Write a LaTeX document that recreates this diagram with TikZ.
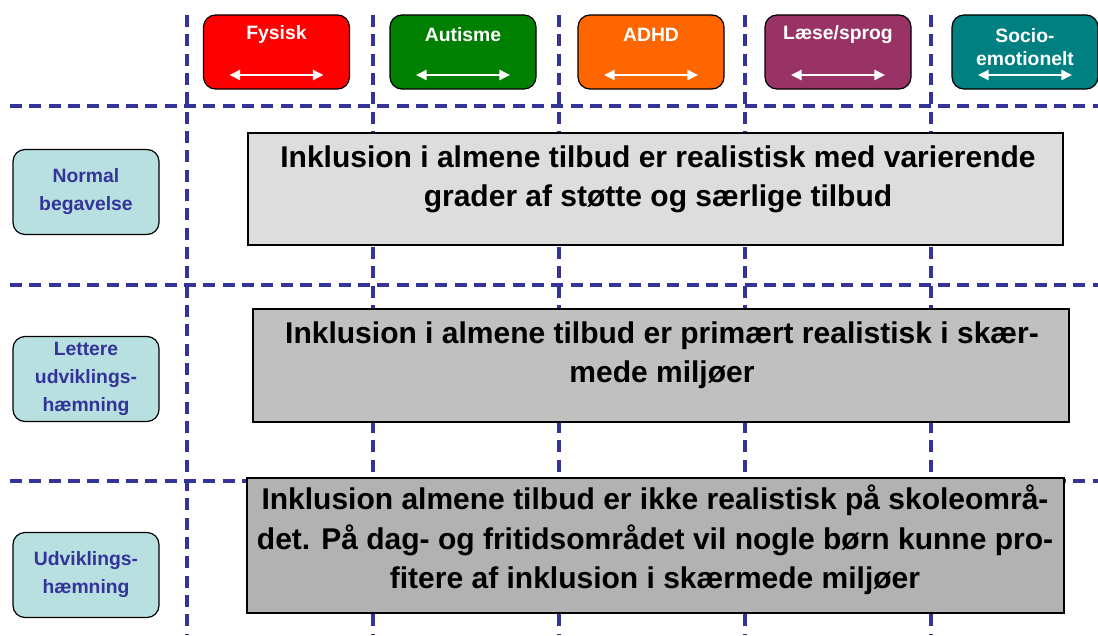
\documentclass[tikz,border=0pt]{standalone}
\usepackage{fontspec}
\setmainfont{Liberation Sans}
\usetikzlibrary{arrows, arrows.meta}
\usetikzlibrary{calc}

\newdimen\px
\px=0.75pt

\definecolor{gridblue}{HTML}{333399}
\definecolor{fysred}{HTML}{FF0000}
\definecolor{autgreen}{HTML}{008000}
\definecolor{adhdorange}{HTML}{FF6600}
\definecolor{laesepurple}{HTML}{993366}
\definecolor{socioteal}{HTML}{008080}
\definecolor{levelcyan}{HTML}{B8E0E0}
\definecolor{greyA}{HTML}{DDDDDD}
\definecolor{greyB}{HTML}{C0C0C0}
\definecolor{greyC}{HTML}{B2B2B2}

\begin{document}
\begin{tikzpicture}[x=0.75pt, y=-0.75pt,
    grid/.style={gridblue, line width=2.3pt, dash pattern=on 9pt off 5.5pt},
    catbox/.style={draw=black, line width=0.9pt, rounded corners=9pt, minimum width=146\px, minimum height=74\px, inner sep=0pt},
    cattext/.style={text=white, align=center, font=\bfseries\fontsize{14.5}{17}\selectfont},
    catarrow/.style={white, line width=1.8pt, {Triangle[length=8pt, width=7.5pt]}-{Triangle[length=8pt, width=7.5pt]}},
    levelbox/.style={draw=black, fill=levelcyan, line width=0.9pt, rounded corners=9pt, minimum width=146\px, minimum height=85\px, text=gridblue, align=center, font=\bfseries\fontsize{14.5}{21}\selectfont},
    infobox/.style={draw=black, line width=1.3pt, inner sep=0pt},
    infotext/.style={align=center, font=\bfseries\fontsize{22.5}{29.5}\selectfont}
  ]
    \useasboundingbox (0,0) rectangle (1098,635);

    % dashed grid
    \draw[grid] (187,15) -- (187,635);
    \draw[grid] (373,15) -- (373,635);
    \draw[grid] (559,15) -- (559,635);
    \draw[grid] (745,15) -- (745,635);
    \draw[grid] (931,15) -- (931,635);
    \draw[grid] (10,106) -- (1098,106);
    \draw[grid] (10,285) -- (1098,285);
    \draw[grid] (10,481) -- (1098,481);

    % categories
    \node[catbox, fill=fysred] (fysisk) at (276.5,52) {};
    \node[catbox, fill=autgreen] (autisme) at (463,52) {};
    \node[catbox, fill=adhdorange] (adhd) at (651,52) {};
    \node[catbox, fill=laesepurple] (laese) at (838,52) {};
    \node[catbox, fill=socioteal] (socio) at (1025,52) {};

    \node[cattext] (fysisklabel) at (276.5,35) {Fysisk};
    \node[cattext] (autismelabel) at (463,35) {Autisme};
    \node[cattext] (adhdlabel) at (651,35) {ADHD};
    \node[cattext] (laeselabel) at (838,35) {Læse/sprog};
    \node[cattext, font=\bfseries\fontsize{14.5}{17}\selectfont] (sociolabel) at (1025,47) {Socio-\\emotionelt};

    \draw[catarrow] ($(fysisk.center)+(-47,23)$) -- ($(fysisk.center)+(47,23)$);
    \draw[catarrow] ($(autisme.center)+(-47,23)$) -- ($(autisme.center)+(47,23)$);
    \draw[catarrow] ($(adhd.center)+(-47,23)$) -- ($(adhd.center)+(47,23)$);
    \draw[catarrow] ($(laese.center)+(-47,23)$) -- ($(laese.center)+(47,23)$);
    \draw[catarrow] ($(socio.center)+(-47,23)$) -- ($(socio.center)+(47,23)$);

    % levels
    \node[levelbox] (normal) at (86,192) {Normal\\begavelse};
    \node[levelbox] (lettere) at (86,379) {Lettere\\udviklings-\\hæmning};
    \node[levelbox] (udvikling) at (86,575) {Udviklings-\\hæmning};

    % inclusion boxes
    \node[infobox, fill=greyA, minimum width=815\px, minimum height=112\px] (normalbox) at (655.5,189) {};
    \node[infobox, fill=greyB, minimum width=816\px, minimum height=113\px] (letterebox) at (661,365.5) {};
    \node[infobox, fill=greyC, minimum width=817\px, minimum height=135\px] (udviklingbox) at (655.5,545.5) {};

    \node[infotext] (normaltext) at (658,179) {Inklusion i almene tilbud er realistisk med varierende\\grader af støtte og særlige tilbud};
    \node[infotext] (letteretext) at (662,355) {Inklusion i almene tilbud er primært realistisk i skær-\\mede miljøer};
    \node[infotext] (udviklingtext) at (655,540) {Inklusion almene tilbud er ikke realistisk på skoleområ-\\det. På dag- og fritidsområdet vil nogle børn kunne pro-\\fitere af inklusion i skærmede miljøer};
  \end{tikzpicture}
\end{document}
